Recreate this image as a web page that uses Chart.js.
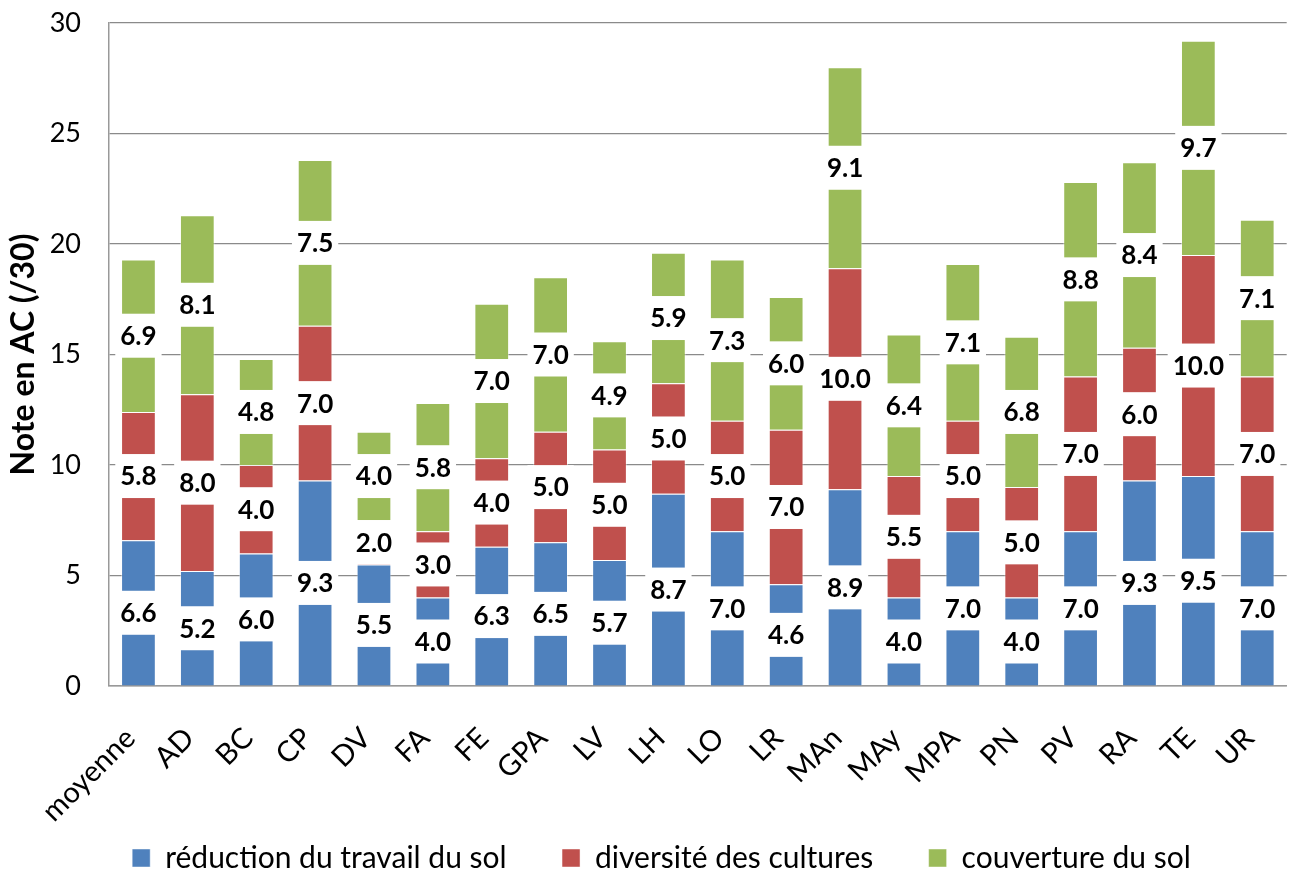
<!DOCTYPE html>
<html>
<head>
<meta charset="utf-8">
<script src="https://cdn.jsdelivr.net/npm/chart.js@4/dist/chart.umd.min.js"></script>
<style>
  html, body { margin: 0; padding: 0; background: #fff; }
  #wrap { width: 1309px; height: 879px; }
</style>
</head>
<body>
<div id="wrap"><canvas id="chart" width="1309" height="879"></canvas></div>
<script>
// categories and series values
const categories = ["moyenne", "AD", "BC", "CP", "DV", "FA", "FE", "GPA", "LV", "LH",
  "LO", "LR", "MAn", "MAy", "MPA", "PN", "PV", "RA", "TE", "UR"];
const reductionTravail = [6.6, 5.2, 6.0, 9.3, 5.5, 4.0, 6.3, 6.5, 5.7, 8.7,
  7.0, 4.6, 8.9, 4.0, 7.0, 4.0, 7.0, 9.3, 9.5, 7.0];
const diversiteCultures = [5.8, 8.0, 4.0, 7.0, 2.0, 3.0, 4.0, 5.0, 5.0, 5.0,
  5.0, 7.0, 10.0, 5.5, 5.0, 5.0, 7.0, 6.0, 10.0, 7.0];
const couvertureSol = [6.9, 8.1, 4.8, 7.5, 4.0, 5.8, 7.0, 7.0, 4.9, 5.9,
  7.3, 6.0, 9.1, 6.4, 7.1, 6.8, 8.8, 8.4, 9.7, 7.1];
const yTicks = [0, 5, 10, 15, 20, 25, 30];

const FONT = "Lato, 'Open Sans', sans-serif";

// value labels centred in each segment, on a white box
const segmentLabels = {
  id: 'segmentLabels',
  afterDatasetsDraw(chart) {
    const ctx = chart.ctx;
    const items = [];
    ctx.save();
    ctx.font = "bold 26px " + FONT;
    chart.data.datasets.forEach((ds, di) => {
      const meta = chart.getDatasetMeta(di);
      meta.data.forEach((bar, i) => {
        const txt = ds.data[i].toFixed(1);
        const y = (bar.y + bar.base) / 2;
        const w = ctx.measureText(txt).width;
        items.push({ x: bar.x, y, w, txt });
      });
    });
    ctx.fillStyle = "#fff";
    items.forEach(it => ctx.fillRect(it.x - it.w / 2 - 5, it.y - 22, it.w + 10, 44));
    ctx.fillStyle = "#000";
    ctx.textAlign = "center";
    ctx.textBaseline = "middle";
    items.forEach(it => ctx.fillText(it.txt, it.x, it.y + 1));
    ctx.restore();
  }
};

// nudge the legend a little to the right
const legendNudge = {
  id: 'legendNudge',
  afterLayout(chart) {
    chart.legend.left += 10;
    chart.legend.right += 10;
  }
};

const ctx = document.getElementById('chart').getContext('2d');
new Chart(ctx, {
  type: 'bar',
  data: {
    labels: categories,
    datasets: [
      { label: 'réduction du travail du sol', data: reductionTravail, backgroundColor: '#4F81BD' },
      { label: 'diversité des cultures', data: diversiteCultures, backgroundColor: '#C0504D' },
      { label: 'couverture du sol', data: couvertureSol, backgroundColor: '#9BBB59' }
    ]
  },
  options: {
    responsive: false,
    animation: false,
    devicePixelRatio: 1,
    datasets: {
      bar: {
        barPercentage: 0.59,
        categoryPercentage: 1,
        borderWidth: 1,
        borderColor: 'rgba(255,255,255,0.45)'
      }
    },
    layout: { padding: { top: 23, right: 6, left: 0, bottom: 0 } },
    plugins: {
      legend: {
        position: 'bottom',
        maxHeight: 53,
        labels: {
          font: { family: FONT, size: 30 },
          color: '#000',
          boxWidth: 18,
          boxHeight: 18,
          padding: 17,
          // wider gap after the first two entries
          generateLabels(chart) {
            const items = Chart.defaults.plugins.legend.labels.generateLabels(chart);
            items.forEach((it, i) => { if (i < items.length - 1) it.text += '     '; });
            return items;
          }
        }
      },
      tooltip: { enabled: false }
    },
    scales: {
      x: {
        stacked: true,
        grid: { display: false },
        border: { color: '#999', width: 1.5 },
        ticks: {
          font: { family: FONT, size: 29 },
          color: '#000',
          minRotation: 45,
          maxRotation: 45,
          padding: 27,
          labelOffset: -8
        },
        afterFit(scale) { scale.height = 140; }
      },
      y: {
        stacked: true,
        min: 0,
        max: 30,
        afterBuildTicks(scale) { scale.ticks = yTicks.map(v => ({ value: v })); },
        grid: { color: '#8a8a8a', lineWidth: 1.2, drawTicks: false },
        border: { color: '#999', width: 1.5 },
        ticks: {
          font: { family: FONT, size: 27 },
          color: '#000',
          padding: 28
        },
        title: {
          display: true,
          text: 'Note en AC (/30)',
          font: { family: FONT, size: 32, weight: 'bold' },
          color: '#000',
          padding: { top: 4, bottom: 0 }
        },
        afterFit(scale) {
          scale.width = 109;
          scale.paddingTop = 0;
          scale.paddingBottom = 0;
        }
      }
    }
  },
  plugins: [segmentLabels, legendNudge]
});
</script>
</body>
</html>
